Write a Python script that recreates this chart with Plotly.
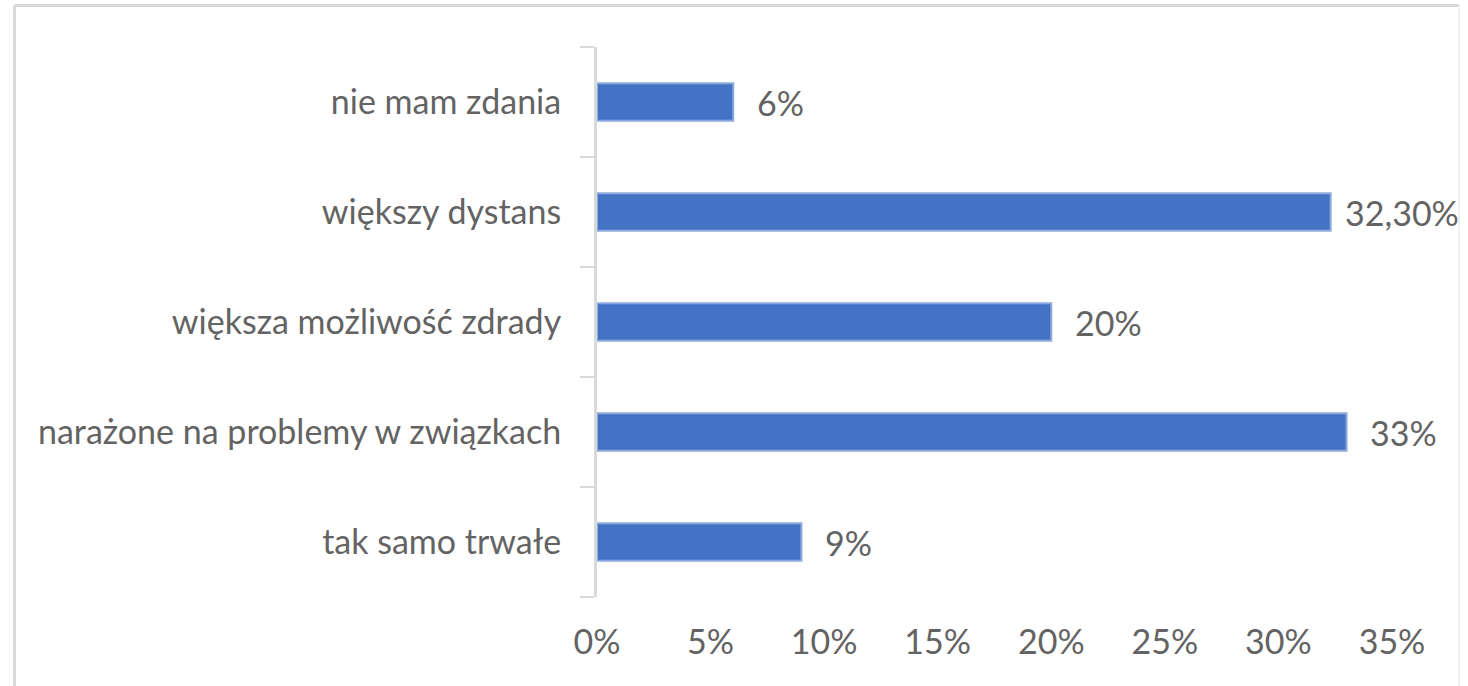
import plotly.graph_objects as go

categories = ["tak samo trwałe", "narażone na problemy w związkach", "większa możliwość zdrady",
              "większy dystans", "nie mam zdania"]
values = [9, 33, 20, 32.3, 6]
value_labels = ["9%", "33%", "20%", "32,30%", "6%"]
x_ticks = [0, 5, 10, 15, 20, 25, 30, 35]
x_tick_labels = ["0%", "5%", "10%", "15%", "20%", "25%", "30%", "35%"]

FONT = "Lato"
TXT = "#636363"
FS = 34
label_shifts = [22, 21, 22, 12, 22]

fig = go.Figure()
fig.add_trace(go.Bar(
    y=categories, x=values, orientation="h",
    marker=dict(color="#4472C4", line=dict(color="#8FAADC", width=2)),
    hoverinfo="skip",
))

for c, v, lab, sh in zip(categories, values, value_labels, label_shifts):
    fig.add_annotation(x=v, y=c, text=lab, showarrow=False, xanchor="left",
                       xshift=sh, font=dict(family=FONT, size=FS, color=TXT))

L, R, T, B = 597, 1392, 47, 597
W, H = 1468, 686
def px(x): return (x - L) / (R - L)
def py(y): return (B - y) / (B - T)

# outer chart border
border = "#D9D9D9"
fig.add_shape(type="line", xref="paper", yref="paper", x0=px(14.5), x1=px(14.5), y0=py(5.5), y1=py(700),
              line=dict(color=border, width=3))
fig.add_shape(type="line", xref="paper", yref="paper", x0=px(14.5), x1=px(1459), y0=py(5.5), y1=py(5.5),
              line=dict(color=border, width=3))
fig.add_shape(type="line", xref="paper", yref="paper", x0=px(1459), x1=px(1459), y0=py(5.5), y1=py(700),
              line=dict(color="#F0F0F0", width=2))

fig.update_layout(
    width=W, height=H,
    margin=dict(l=L, r=W - R, t=T, b=H - B),
    paper_bgcolor="white", plot_bgcolor="white",
    showlegend=False,
    bargap=0.66,
    font=dict(family=FONT, size=FS, color=TXT),
    xaxis=dict(range=[0, 35], tickvals=x_ticks, ticktext=x_tick_labels, showgrid=False,
               zeroline=False, showline=False, ticks="", ticklabelstandoff=22,
               tickfont=dict(family=FONT, size=FS, color=TXT), fixedrange=True),
    yaxis=dict(type="category", showgrid=False, zeroline=False, showline=True,
               linecolor="#D9D9D9", linewidth=3, ticks="outside", ticklen=14,
               tickcolor="#D9D9D9", tickwidth=2, tickson="boundaries",
               ticklabelstandoff=26, range=[-0.5, 4.5],
               tickfont=dict(family=FONT, size=FS, color=TXT), fixedrange=True),
)

fig.write_html("out.html", config={"displayModeBar": False},
               post_script="document.body.style.margin='0';document.body.style.overflow='hidden';")
